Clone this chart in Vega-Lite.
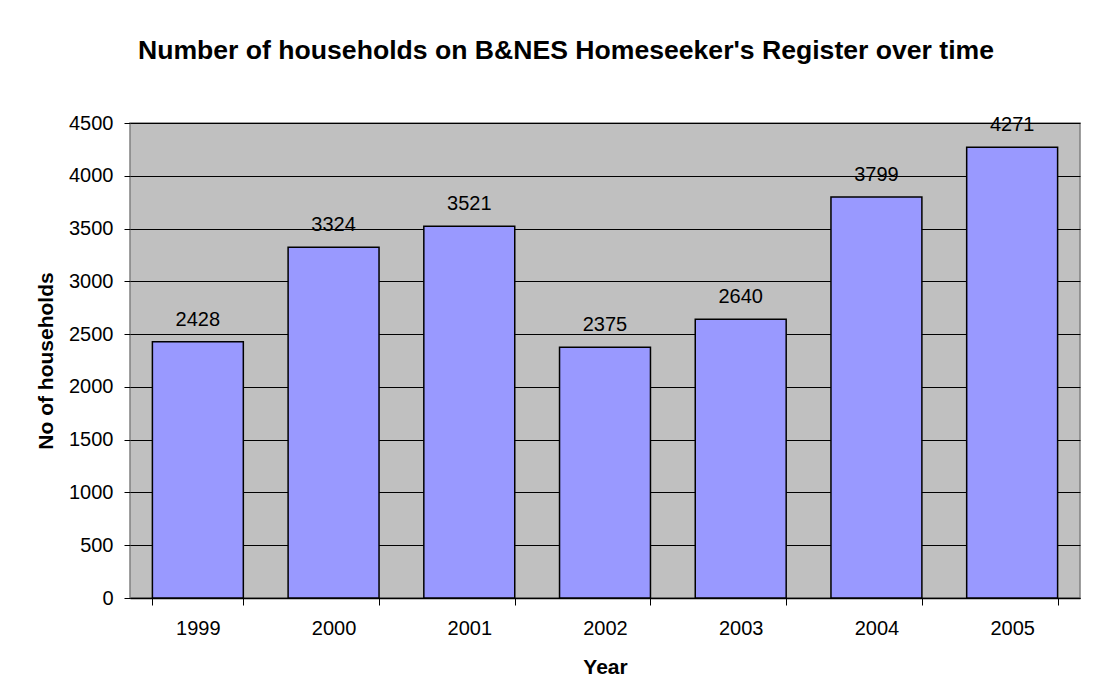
{
  "$schema": "https://vega.github.io/schema/vega-lite/v6.json",
  "width": 950,
  "height": 475,
  "autosize": {"type": "none"},
  "padding": {"left": 130, "top": 123, "right": 34, "bottom": 101},
  "background": "white",
  "title": {
    "text": "Number of households on B&NES Homeseeker's Register over time",
    "font": "Liberation Sans",
    "fontSize": 26.6,
    "fontWeight": "bold",
    "color": "black",
    "anchor": "middle",
    "frame": "group",
    "offset": 48,
    "dx": -39
  },
  "data": {
    "values": [
      {"Year": "1999", "Households": 2428},
      {"Year": "2000", "Households": 3324},
      {"Year": "2001", "Households": 3521},
      {"Year": "2002", "Households": 2375},
      {"Year": "2003", "Households": 2640},
      {"Year": "2004", "Households": 3799},
      {"Year": "2005", "Households": 4271}
    ]
  },
  "encoding": {
    "x": {
      "field": "Year",
      "type": "ordinal",
      "scale": {"paddingInner": 0.33, "paddingOuter": 0.165},
      "axis": {
        "title": "Year",
        "titleFont": "Liberation Sans",
        "titleFontSize": 21,
        "titleFontWeight": "bold",
        "titleColor": "black",
        "titlePadding": 18,
        "labelFont": "Liberation Sans",
        "labelFontSize": 20,
        "labelColor": "black",
        "labelAngle": 0,
        "labelPadding": 13,
        "tickBand": "extent",
        "tickSize": 7,
        "tickColor": "black",
        "domainColor": "black",
        "domainWidth": 1.5,
        "grid": false
      }
    },
    "y": {
      "field": "Households",
      "type": "quantitative",
      "scale": {"domain": [0, 4500], "nice": false},
      "axis": {
        "title": "No of households",
        "titleFont": "Liberation Sans",
        "titleFontSize": 21,
        "titleFontWeight": "bold",
        "titleColor": "black",
        "titlePadding": 12,
        "format": "d",
        "values": [0, 500, 1000, 1500, 2000, 2500, 3000, 3500, 4000, 4500],
        "labelFont": "Liberation Sans",
        "labelFontSize": 20,
        "labelColor": "black",
        "labelPadding": 11,
        "tickSize": 6,
        "tickColor": "black",
        "domain": false,
        "grid": true,
        "gridColor": "black",
        "gridWidth": 1
      }
    }
  },
  "layer": [
    {
      "mark": {"type": "bar", "color": "#9999FF", "stroke": "black", "strokeWidth": 1.5}
    },
    {
      "mark": {
        "type": "text",
        "baseline": "alphabetic",
        "dy": -16,
        "font": "Liberation Sans",
        "fontSize": 20,
        "color": "black"
      },
      "encoding": {"text": {"field": "Households", "type": "quantitative"}}
    }
  ],
  "config": {
    "view": {"fill": "#C0C0C0", "stroke": "#808080", "strokeWidth": 1.5}
  }
}
